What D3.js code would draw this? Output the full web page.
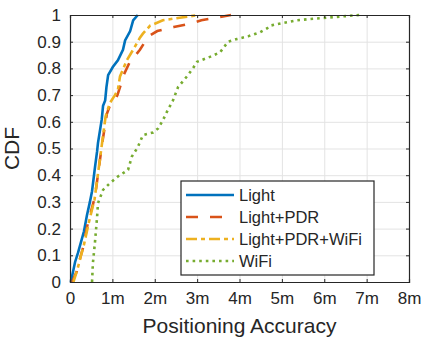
<!DOCTYPE html>
<html lang="en">
<head>
<meta charset="utf-8">
<script src="https://cdnjs.cloudflare.com/ajax/libs/d3/7.8.5/d3.min.js"></script>
<style>
    body { margin: 0; background: #fff; }
    svg text { font-family: "Liberation Sans", Arial, sans-serif; fill: #262626; }
    .grid line { stroke: #e3e3e3; stroke-width: 1; }
    .grid path { display: none; }
    .ax path, .ax line { stroke: #262626; }
</style>
</head>
<body>
<svg id="chart" width="422" height="341"></svg>
<script>
    // x values in metres, y values are the CDF
    const lightX = [0.02, 0.12, 0.19, 0.33, 0.40, 0.47, 0.52, 0.59, 0.64, 0.66, 0.75, 0.78, 0.83, 0.86, 0.90, 1.01, 1.13, 1.25, 1.30, 1.42, 1.49, 1.60];
    const lightY = [0, 0.075, 0.11, 0.19, 0.25, 0.30, 0.34, 0.43, 0.49, 0.52, 0.61, 0.66, 0.68, 0.73, 0.775, 0.805, 0.83, 0.87, 0.905, 0.94, 0.98, 1.0];

    const pdrX = [0.05, 0.16, 0.24, 0.31, 0.42, 0.59, 0.76, 0.87, 0.94, 1.05, 1.12, 1.20, 1.25, 1.40, 1.55, 1.65, 1.85, 2.06, 2.45, 2.90, 3.10, 3.45, 3.80];
    const pdrY = [0, 0.04, 0.09, 0.13, 0.22, 0.32, 0.52, 0.63, 0.66, 0.68, 0.70, 0.74, 0.77, 0.82, 0.85, 0.87, 0.92, 0.94, 0.955, 0.97, 0.98, 0.99, 1.0];

    const wifiPdrX = [0.08, 0.18, 0.26, 0.33, 0.44, 0.58, 0.74, 0.84, 0.94, 1.06, 1.13, 1.18, 1.34, 1.49, 1.65, 1.72, 1.89, 2.19, 2.59, 3.05];
    const wifiPdrY = [0, 0.05, 0.10, 0.14, 0.22, 0.31, 0.50, 0.62, 0.67, 0.70, 0.72, 0.77, 0.83, 0.87, 0.915, 0.93, 0.96, 0.98, 0.99, 1.0];

    const wifiX = [0.52, 0.54, 0.59, 0.64, 0.66, 0.78, 0.94, 1.13, 1.37, 1.46, 1.60, 1.72, 1.96, 2.08, 2.19, 2.31, 2.43, 2.55, 2.76, 2.90, 3.00, 3.30, 3.54, 3.73, 3.94, 4.20, 4.48, 4.65, 4.72, 5.02, 5.35, 5.66, 6.06, 6.44, 6.84];
    const wifiY = [0, 0.07, 0.15, 0.245, 0.295, 0.345, 0.37, 0.395, 0.42, 0.47, 0.505, 0.55, 0.56, 0.575, 0.605, 0.645, 0.68, 0.73, 0.77, 0.80, 0.825, 0.843, 0.86, 0.90, 0.91, 0.92, 0.935, 0.95, 0.96, 0.97, 0.98, 0.985, 0.99, 0.995, 1.0];

    const seriesNames = ["Light", "Light+PDR", "Light+PDR+WiFi", "WiFi"];
    const xTicks = [0, 1, 2, 3, 4, 5, 6, 7, 8];
    const yTicks = [0, 0.1, 0.2, 0.3, 0.4, 0.5, 0.6, 0.7, 0.8, 0.9, 1];

    const series = [
        {name: seriesNames[0], xs: lightX, ys: lightY, color: "#0072BD", dash: null, w: 2.6},
        {name: seriesNames[1], xs: pdrX, ys: pdrY, color: "#D95319", dash: "12,12", w: 2.6},
        {name: seriesNames[2], xs: wifiPdrX, ys: wifiPdrY, color: "#EDB120", dash: "11,4,4,4", w: 2.6},
        {name: seriesNames[3], xs: wifiX, ys: wifiY, color: "#77AC30", dash: "2.6,4", w: 2.6}
    ];

    const margin = {top: 15, right: 13, bottom: 59, left: 70};
    const width = 422 - margin.left - margin.right,
          height = 341 - margin.top - margin.bottom;

    const x = d3.scaleLinear().domain([0, 8]).range([0, width]);
    const y = d3.scaleLinear().domain([0, 1]).range([height, 0]);

    const svg = d3.select("#chart")
      .append("g")
        .attr("transform", "translate(" + margin.left + "," + margin.top + ")");

    // grid
    svg.append("g")
        .attr("class", "grid")
        .attr("transform", "translate(0," + height + ")")
        .call(d3.axisBottom(x).tickValues(xTicks).tickSize(-height).tickFormat(""));
    svg.append("g")
        .attr("class", "grid")
        .call(d3.axisLeft(y).tickValues(yTicks).tickSize(-width).tickFormat(""));

    // curves
    const line = d3.line()
        .x(function(d) { return x(d[0]); })
        .y(function(d) { return y(d[1]); });

    series.forEach(function(s) {
        const pts = s.xs.map(function(v, i) { return [v, s.ys[i]]; });
        svg.append("path")
            .datum(pts)
            .attr("fill", "none")
            .attr("stroke", s.color)
            .attr("stroke-width", s.w)
            .attr("stroke-dasharray", s.dash)
            .attr("d", line);
    });

    // axes, ticks point inward, mirrored on top and right
    const xFmt = function(d) { return d === 0 ? "0" : d + "m"; };
    const yFmt = function(d) { return d === 0 ? "0" : d === 1 ? "1" : d3.format(".1f")(d); };

    const xAx = svg.append("g")
        .attr("class", "ax")
        .attr("transform", "translate(0," + height + ")")
        .call(d3.axisBottom(x).tickValues(xTicks).tickSize(-3).tickPadding(10).tickFormat(xFmt));
    const yAx = svg.append("g")
        .attr("class", "ax")
        .call(d3.axisLeft(y).tickValues(yTicks).tickSize(-3).tickPadding(9).tickFormat(yFmt));
    svg.append("g")
        .attr("class", "ax")
        .call(d3.axisTop(x).tickValues(xTicks).tickSize(-3).tickFormat(""));
    svg.append("g")
        .attr("class", "ax")
        .attr("transform", "translate(" + width + ",0)")
        .call(d3.axisRight(y).tickValues(yTicks).tickSize(-3).tickFormat(""));

    svg.selectAll(".ax path").attr("stroke-width", 1.2);
    xAx.selectAll("text").style("font-size", "17px").attr("fill", "#262626");
    yAx.selectAll("text").style("font-size", "17px").attr("fill", "#262626");

    // axis titles
    svg.append("text")
        .attr("x", width / 2)
        .attr("y", height + 51)
        .attr("text-anchor", "middle")
        .style("font-size", "21px")
        .text("Positioning Accuracy");
    svg.append("text")
        .attr("transform", "translate(" + (-51) + "," + (height / 2) + ") rotate(-90)")
        .attr("text-anchor", "middle")
        .style("font-size", "21px")
        .text("CDF");

    // legend
    const lg = svg.append("g").attr("transform", "translate(" + (181 - margin.left) + "," + (181 - margin.top) + ")");
    lg.append("rect")
        .attr("width", 193).attr("height", 94)
        .attr("fill", "#fff").attr("stroke", "#262626").attr("stroke-width", 1.2);
    series.forEach(function(s, i) {
        const cy = 14 + i * 22;
        lg.append("line")
            .attr("x1", 5).attr("x2", 53)
            .attr("y1", cy).attr("y2", cy)
            .attr("stroke", s.color)
            .attr("stroke-width", s.w)
            .attr("stroke-dasharray", s.dash);
        lg.append("text")
            .attr("x", 58).attr("y", cy + 6)
            .style("font-size", "16.5px")
            .text(s.name);
    });
</script>
</body>
</html>
